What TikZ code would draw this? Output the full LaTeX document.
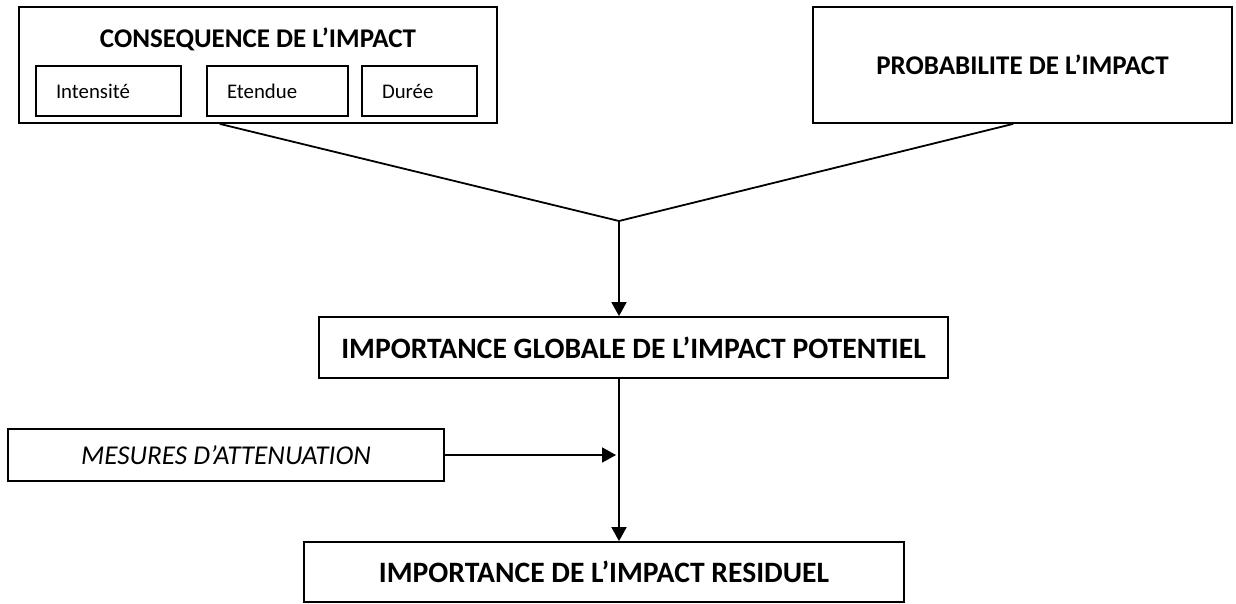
\documentclass[tikz,border=0pt]{standalone}
\usepackage{fontspec}
\setmainfont{Carlito}
\usepackage{tikz}
\usetikzlibrary{arrows.meta}

\begin{document}
\begin{tikzpicture}[x=0.5pt, y=-0.5pt,
    box/.style={draw, line width=0.9pt, inner sep=0pt},
    sub/.style={box, minimum height=25pt, text width=#1, align=left, inner xsep=10pt, font=\fontsize{10.4}{12}\selectfont},
    titre/.style={font=\fontsize{13.5}{16}\selectfont\bfseries},
    grand/.style={font=\fontsize{14.8}{17}\selectfont\bfseries},
    edge/.style={line width=0.9pt},
    arrow/.style={edge, -{Triangle[length=7pt, width=7.5pt]}}
    ]
    \useasboundingbox (0,0) rectangle (1236,604);

    % blocs du haut
    \node[box, minimum width=239pt, minimum height=58pt] (conseq) at (258,65) {};
    \node[titre] (tconseq) at (258,39) {CONSEQUENCE DE L’IMPACT};
    \node[sub=52.5pt] (inten) at (108.5,91) {Intensité};
    \node[sub=50.5pt] (etend) at (277.5,91) {Etendue};
    \node[sub=37.5pt] (duree) at (419.5,91) {Durée};
    \node[box, titre, minimum width=209.5pt, minimum height=58pt] (prob) at (1022.5,65) {PROBABILITE DE L’IMPACT};

    % blocs du bas
    \node[box, grand, minimum width=314.5pt, minimum height=30.5pt] (potent) at (633.5,347.5) {IMPORTANCE GLOBALE DE L’IMPACT POTENTIEL};
    \node[box, minimum width=218pt, minimum height=26pt, font=\fontsize{13.6}{16}\selectfont\itshape] (mesures) at (226,455) {MESURES D’ATTENUATION};
    \node[box, grand, minimum width=300pt, minimum height=30pt] (resid) at (604,572) {IMPORTANCE DE L’IMPACT RESIDUEL};

    % liaisons
    \coordinate (join) at (619,221);
    \draw[edge] (conseq.237) -- (join) -- (prob.261);
    \draw[arrow] (join) -- (join |- potent.north);
    \draw[arrow] (join |- potent.south) -- (join |- resid.north);
    \draw[arrow, shorten >=1.5pt] (mesures.east) -- (mesures.east -| join);

\end{tikzpicture}
\end{document}
